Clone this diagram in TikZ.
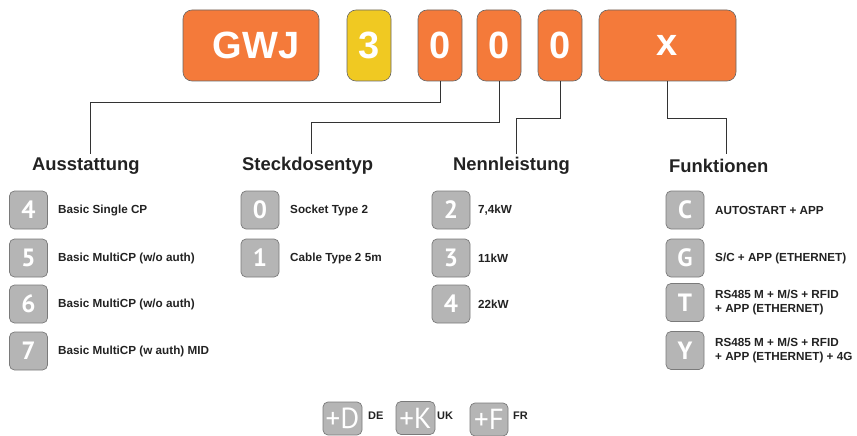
\documentclass[tikz,border=0pt]{standalone}
\usepackage{fontspec}
\setmainfont{Liberation Sans}
\newfontfamily\digfont{PT Sans}
\definecolor{orng}{HTML}{F47A3A}
\definecolor{yel}{HTML}{F0C922}
\definecolor{gfill}{HTML}{B5B5B5}
\definecolor{gline}{HTML}{7A7A7A}
\definecolor{txt}{HTML}{222222}
\definecolor{conn}{HTML}{333333}
\begin{document}
\begin{tikzpicture}[x=1pt,y=-1pt,
  topbox/.style={draw=black!60, line width=0.6pt, fill=orng, rounded corners=9pt, minimum height=71pt, inner sep=0pt, text=white, font=\bfseries\fontsize{38}{38}\selectfont},
  greybox/.style={draw=gline, line width=0.7pt, fill=gfill, rounded corners=5pt, minimum width=38pt, minimum height=38pt, inner sep=0pt, text=white, font=\digfont\bfseries\fontsize{25}{25}\selectfont},
  varbox/.style={greybox, minimum width=39pt, minimum height=33pt, font=\digfont\fontsize{29}{29}\selectfont},
  itemtext/.style={anchor=west, text=txt, font=\bfseries\fontsize{11.7}{13.5}\selectfont, align=left, inner sep=0pt},
  vartext/.style={anchor=west, text=txt, font=\bfseries\fontsize{11}{11}\selectfont, inner sep=0pt},
  heading/.style={anchor=west, text=txt, font=\bfseries\fontsize{18.4}{18.4}\selectfont, inner sep=0pt},
  conline/.style={draw=conn, line width=0.9pt}]
\useasboundingbox (0,0) rectangle (857,436);
\clip (0,0) rectangle (857,436);
% top code boxes
\node[topbox, minimum width=136pt, label={[xshift=5pt, text=white, font=\bfseries\fontsize{38}{38}\selectfont]center:GWJ}] (gwj) at (251,45.5) {};
\node[topbox, fill=yel, minimum width=44pt] (three) at (369,45.5) {3};
\node[topbox, minimum width=44pt] (d1) at (440,45.5) {0};
\node[topbox, minimum width=44pt] (d2) at (499,45.5) {0};
\node[topbox, minimum width=44pt] (d3) at (560,45.5) {0};
\node[topbox, minimum width=137pt] (fx) at (667.5,45.5) {x};
% headings
\node[heading] (aus) at (32,166) {Ausstattung};
\node[heading] (steck) at (242,166) {Steckdosentyp};
\node[heading] (nenn) at (453,166) {Nennleistung};
\node[heading] (funk) at (669,166) {Funktionen};
% connector bends and ends
\coordinate (t1) at (90,102);   \coordinate (e1) at (90,154);
\coordinate (t2) at (311,122);  \coordinate (e2) at (311,154);
\coordinate (t3) at (516,118);  \coordinate (e3) at (516,154);
\coordinate (t4) at (726,118);  \coordinate (e4) at (726,154);
\draw[conline] (d1.south) |- (t1) -- (e1);
\draw[conline] (d2.south) |- (t2) -- (e2);
\draw[conline] (d3.south) |- (t3) -- (e3);
\draw[conline] (fx.south) |- (t4) -- (e4);
% Ausstattung
\node[greybox] (a4) at (28.5,210) {4};
\node[itemtext] (a4t) at (58,210) {Basic Single CP};
\node[greybox] (a5) at (28.5,258) {5};
\node[itemtext] (a5t) at (58,258) {Basic MultiCP (w/o auth)};
\node[greybox] (a6) at (28.5,304) {6};
\node[itemtext] (a6t) at (58,304) {Basic MultiCP (w/o auth)};
\node[greybox] (a7) at (28.5,351) {7};
\node[itemtext] (a7t) at (58,351) {Basic MultiCP (w auth) MID};
% Steckdosentyp
\node[greybox] (s0) at (260,210) {0};
\node[itemtext] (s0t) at (290,210) {Socket Type 2};
\node[greybox] (s1) at (260,258) {1};
\node[itemtext] (s1t) at (290,258) {Cable Type 2 5m};
% Nennleistung
\node[greybox] (n2) at (451,210) {2};
\node[itemtext] (n2t) at (478,210) {7,4kW};
\node[greybox] (n3) at (451,258) {3};
\node[itemtext] (n3t) at (478,258) {11kW};
\node[greybox] (n4) at (451,304) {4};
\node[itemtext] (n4t) at (478,304) {22kW};
% Funktionen
\node[greybox] (fc) at (685,210) {C};
\node[itemtext] (fct) at (715,210) {AUTOSTART + APP};
\node[greybox] (fg) at (685,258) {G};
\node[itemtext] (fgt) at (715,258) {S/C + APP (ETHERNET)};
\node[greybox] (ft) at (685,302.5) {T};
\node[itemtext] (ftt) at (715,302.5) {RS485 M + M/S + RFID\\+ APP (ETHERNET)};
\node[greybox] (fy) at (685,350.5) {Y};
\node[itemtext] (fyt) at (715,350.5) {RS485 M + M/S + RFID\\+ APP (ETHERNET) + 4G};
% country variants
\node[varbox] (pd) at (342.5,418.5) {+D};
\node[vartext] (pdt) at (368,416) {DE};
\node[varbox] (pk) at (415.5,418) {+K};
\node[vartext] (pkt) at (437,416) {UK};
\node[varbox, minimum width=38pt] (pf) at (489,419.5) {+F};
\node[vartext] (pft) at (513,416) {FR};
\end{tikzpicture}
\end{document}
